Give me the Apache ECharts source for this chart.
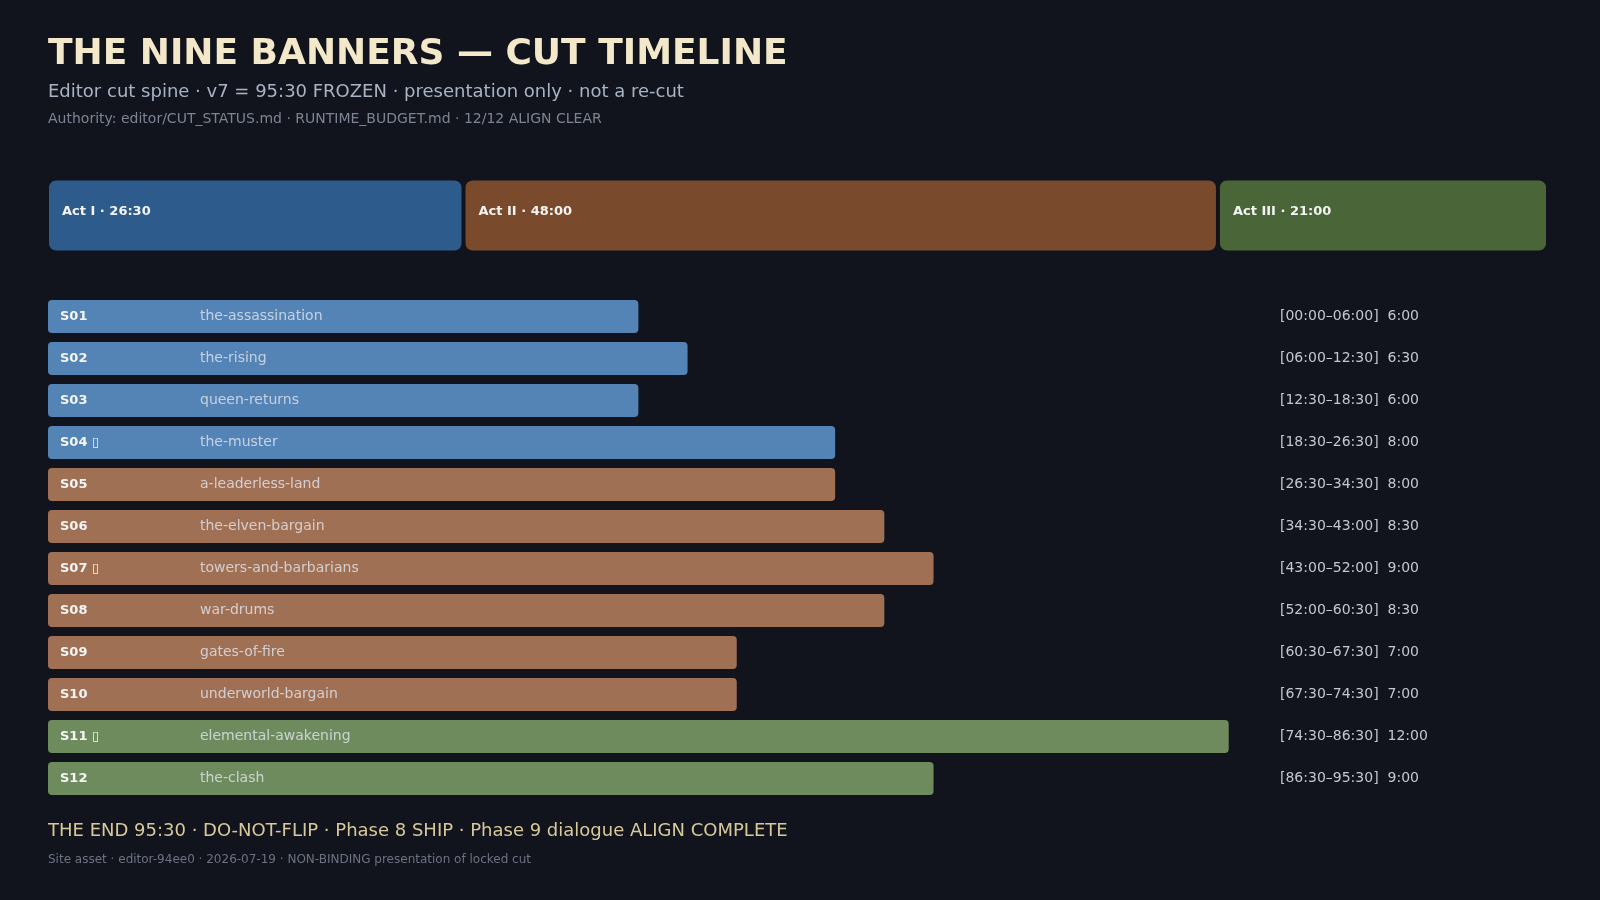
<!DOCTYPE html>
<html>
<head>
<meta charset="utf-8">
<title>The Nine Banners — Cut Timeline</title>
<script src="https://cdn.jsdelivr.net/npm/echarts@6/dist/echarts.min.js"></script>
<style>
  html, body { margin: 0; padding: 0; background: #11141c; }
  #chart { width: 1600px; height: 900px; }
</style>
</head>
<body>
<div id="chart"></div>
<script>
// scene list (cut v7)
const sceneIds = ['S01', 'S02', 'S03', 'S04 ▯', 'S05', 'S06', 'S07 ▯', 'S08', 'S09', 'S10', 'S11 ▯', 'S12']
const sceneNames = ['the-assassination', 'the-rising', 'queen-returns', 'the-muster', 'a-leaderless-land',
  'the-elven-bargain', 'towers-and-barbarians', 'war-drums', 'gates-of-fire', 'underworld-bargain',
  'elemental-awakening', 'the-clash']
// durations in seconds
const sceneSecs = [360, 390, 360, 480, 480, 510, 540, 510, 420, 420, 720, 540]
const sceneAct = [0, 0, 0, 0, 1, 1, 1, 1, 1, 1, 2, 2]
const actNames = ['Act I', 'Act II', 'Act III']

const BG = '#11141c'
const actColors = ['#2d5b8c', '#7a4a2c', '#4a6639']
const sceneColors = ['#5483b5', '#a07054', '#6e8b5e']

const fmt = (s) => {
  const m = Math.floor(s / 60), r = s % 60
  return String(m) + ':' + String(r).padStart(2, '0')
}
const fmt2 = (s) => fmt(s).padStart(5, '0')

// act totals + cumulative ranges
const actSecs = actNames.map((_, a) => sceneSecs.filter((_, i) => sceneAct[i] === a).reduce((p, c) => p + c, 0))
const totalSecs = actSecs.reduce((p, c) => p + c, 0)
let acc = 0
const rangeLabels = sceneSecs.map((s) => {
  const lab = '[' + fmt2(acc) + '–' + fmt2(acc + s) + ']  ' + fmt(s)
  acc += s
  return lab
})

const chart = echarts.init(document.getElementById('chart'))

const actSeries = actNames.map((name, a) => ({
  name: name,
  type: 'bar',
  stack: 'acts',
  xAxisIndex: 0,
  yAxisIndex: 0,
  barWidth: 74,
  data: [actSecs[a] / 60],
  itemStyle: { color: actColors[a], borderColor: BG, borderWidth: 2, borderRadius: 8 },
  label: {
    show: true,
    position: 'insideLeft',
    distance: 15,
    offset: [0, -4],
    formatter: () => name + ' · ' + fmt(actSecs[a]),
    color: '#f4f4f4',
    fontWeight: 'bold',
    fontSize: 13
  },
  silent: true
}))

const option = {
  backgroundColor: BG,
  animation: false,
  textStyle: { fontFamily: 'DejaVu Sans' },
  grid: [
    { left: 47, width: 1501, top: 170, height: 91 },
    { left: 48, width: 1225, top: 295.5, height: 504 }
  ],
  xAxis: [
    { gridIndex: 0, type: 'value', min: 0, max: totalSecs / 60, show: false },
    { gridIndex: 1, type: 'value', min: 0, max: 12.45, show: false }
  ],
  yAxis: [
    { gridIndex: 0, type: 'category', data: ['acts'], show: false },
    { gridIndex: 1, type: 'category', data: sceneIds, inverse: true, show: false },
    {
      gridIndex: 1, type: 'category', data: rangeLabels, inverse: true, position: 'right',
      axisLine: { show: false }, axisTick: { show: false }, splitLine: { show: false },
      axisLabel: { margin: 7, color: '#c3c7cf', fontSize: 14, align: 'left' }
    }
  ],
  graphic: [
    { type: 'text', x: 48, y: 55, style: { text: 'THE NINE BANNERS — CUT TIMELINE', fill: '#f3e8c9', fontSize: 36, fontWeight: 'bold', fontFamily: 'DejaVu Sans', textVerticalAlign: 'middle' } },
    { type: 'text', x: 48, y: 92, style: { text: 'Editor cut spine · v7 = 95:30 FROZEN · presentation only · not a re-cut', fill: '#a9b3c4', fontSize: 18, fontFamily: 'DejaVu Sans', textVerticalAlign: 'middle' } },
    { type: 'text', x: 48, y: 119, style: { text: 'Authority: editor/CUT_STATUS.md · RUNTIME_BUDGET.md · 12/12 ALIGN CLEAR', fill: '#7c8493', fontSize: 14, fontFamily: 'DejaVu Sans', textVerticalAlign: 'middle' } },
    { type: 'text', x: 48, y: 831, style: { text: 'THE END 95:30 · DO-NOT-FLIP · Phase 8 SHIP · Phase 9 dialogue ALIGN COMPLETE', fill: '#d8c99b', fontSize: 18, fontFamily: 'DejaVu Sans', textVerticalAlign: 'middle' } },
    { type: 'text', x: 48, y: 860, style: { text: 'Site asset · editor-94ee0 · 2026-07-19 · NON-BINDING presentation of locked cut', fill: '#6c7281', fontSize: 12, fontFamily: 'DejaVu Sans', textVerticalAlign: 'middle' } }
  ],
  series: actSeries.concat([
    {
      name: 'scenes',
      type: 'bar',
      xAxisIndex: 1,
      yAxisIndex: 1,
      barWidth: 33,
      data: sceneSecs.map((s, i) => ({
        value: s / 60,
        itemStyle: { color: sceneColors[sceneAct[i]], borderRadius: 4 }
      })),
      label: {
        show: true,
        position: 'insideLeft',
        distance: 12,
        formatter: (p) => '{id|' + sceneIds[p.dataIndex] + '}{nm|' + sceneNames[p.dataIndex] + '}',
        rich: {
          id: { width: 140, color: '#f6f6f6', fontWeight: 'bold', fontSize: 13 },
          nm: { color: 'rgba(222,226,234,0.82)', fontSize: 14 }
        }
      },
      silent: true
    }
  ])
}

chart.setOption(option)
</script>
</body>
</html>
